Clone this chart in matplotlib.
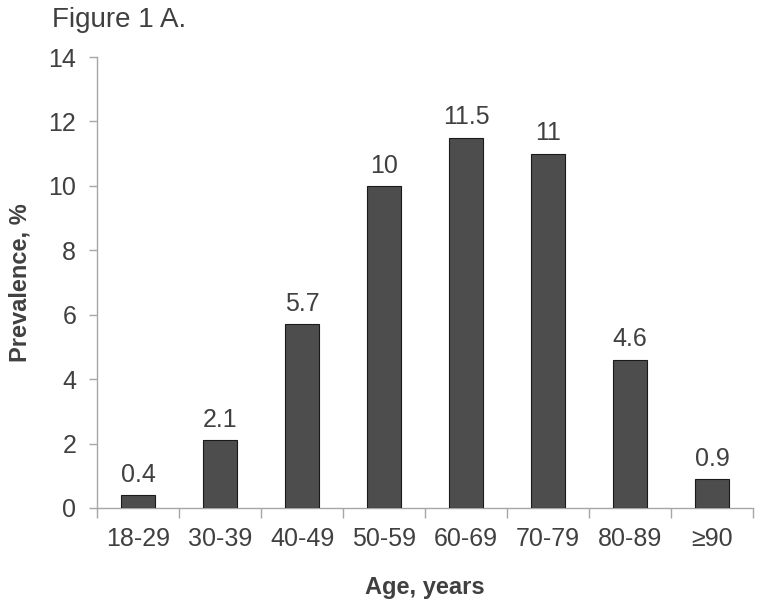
import matplotlib
matplotlib.use('Agg')
import matplotlib.pyplot as plt
import numpy as np

plt.rcParams['font.family'] = ['Liberation Sans', 'DejaVu Sans']

age_groups = ['18-29', '30-39', '40-49', '50-59', '60-69', '70-79', '80-89', '\u226590']
prevalence = [0.4, 2.1, 5.7, 10, 11.5, 11, 4.6, 0.9]
value_labels = ['0.4', '2.1', '5.7', '10', '11.5', '11', '4.6', '0.9']

TEXT = '#404040'
AXIS = '#a6a6a6'

fig = plt.figure(figsize=(7.61, 6.04), dpi=100)
ax = fig.add_axes([0.1275, 0.159, 0.862, 0.7466])

x = np.arange(len(age_groups))
ax.bar(x, prevalence, width=0.41, color='#4d4d4d', edgecolor='#1a1a1a', linewidth=0.8, zorder=3)

for xi, v, lab in zip(x, prevalence, value_labels):
    ax.annotate(lab, (xi, v), xytext=(0, 6), textcoords='offset points',
                ha='center', va='bottom', fontsize=18, color=TEXT)

ax.set_xlim(-0.5, len(age_groups) - 0.5)
ax.set_ylim(0, 14)
ax.set_yticks(range(0, 15, 2))
ax.set_xticks(x)
ax.set_xticklabels(age_groups)
ax.set_xticks(np.arange(-0.5, len(age_groups)), minor=True)
ax.tick_params(axis='x', which='major', length=0, pad=14, labelsize=18, labelcolor=TEXT)
ax.tick_params(axis='x', which='minor', length=7, width=1, color=AXIS, direction='out')
ax.tick_params(axis='y', length=6, width=1, color=AXIS, labelsize=18, labelcolor=TEXT, pad=9)

for s in ['top', 'right']:
    ax.spines[s].set_visible(False)
for s in ['left', 'bottom']:
    ax.spines[s].set_color(AXIS)
    ax.spines[s].set_linewidth(1)

ax.set_xlabel('Age, years', fontsize=17, fontweight='bold', color=TEXT, labelpad=18)
ax.set_ylabel('Prevalence, %', fontsize=17, fontweight='bold', color=TEXT, labelpad=12)

fig.text(0.068, 0.955, 'Figure 1 A.', fontsize=20, color=TEXT, ha='left', va='baseline')

fig.savefig('out.png', dpi=100)
